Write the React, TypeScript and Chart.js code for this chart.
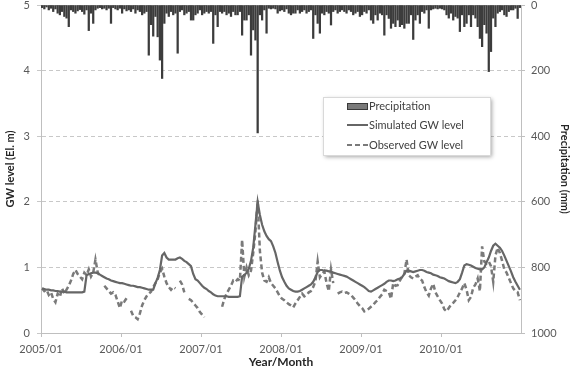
import { useEffect, useRef } from 'react';
import { Chart, registerables } from 'chart.js';

Chart.register(...registerables);

// ---- Data (10-day periods, 36 per year) ----
const years = [2005, 2006, 2007, 2008, 2009, 2010];
const xTickLabels = ['2005/01', '2006/01', '2007/01', '2008/01', '2009/01', '2010/01'];

// Precipitation (mm)
const precip2005 = [8, 12, 6, 15, 10, 20, 12, 25, 30, 20, 35, 40, 66, 15, 20, 25, 18, 14, 20, 28, 15, 78, 25, 56, 15, 10, 8, 12, 10, 15, 10, 56, 8, 12, 15, 10];
const precip2006 = [25, 12, 18, 15, 20, 12, 25, 15, 20, 30, 25, 20, 153, 60, 95, 35, 97, 168, 224, 56, 25, 35, 20, 30, 25, 147, 20, 15, 30, 25, 20, 46, 46, 30, 25, 15];
const precip2007 = [30, 25, 20, 25, 20, 117, 30, 66, 20, 25, 20, 30, 25, 35, 20, 30, 30, 20, 92, 46, 46, 30, 153, 76, 107, 390, 30, 46, 15, 86, 10, 12, 10, 12, 25, 18];
const precip2008 = [15, 20, 12, 25, 30, 25, 25, 15, 25, 20, 15, 25, 20, 15, 102, 30, 56, 86, 25, 30, 20, 25, 61, 20, 15, 25, 20, 15, 20, 25, 15, 20, 30, 25, 20, 35];
const precip2009 = [30, 20, 25, 15, 46, 56, 30, 46, 25, 30, 92, 30, 41, 71, 56, 66, 46, 66, 60, 71, 56, 56, 30, 105, 46, 30, 56, 20, 25, 15, 71, 15, 12, 10, 12, 10];
const precip2010 = [12, 15, 30, 40, 25, 46, 35, 40, 81, 30, 66, 56, 30, 66, 30, 40, 66, 102, 127, 60, 86, 203, 142, 40, 66, 25, 20, 15, 30, 35, 20, 15, 15, 10, 41, 8];

// Simulated GW level (El. m)
const sim2005 = [0.68, 0.67, 0.66, 0.66, 0.65, 0.65, 0.64, 0.64, 0.63, 0.63, 0.63, 0.62, 0.62, 0.62, 0.62, 0.62, 0.62, 0.62, 0.62, 0.63, 0.88, 0.90, 0.91, 0.92, 0.92, 0.91, 0.89, 0.87, 0.85, 0.83, 0.82, 0.80, 0.79, 0.78, 0.77, 0.76];
const sim2006 = [0.76, 0.75, 0.74, 0.73, 0.72, 0.72, 0.71, 0.70, 0.70, 0.69, 0.68, 0.67, 0.66, 0.66, 0.66, 0.76, 0.84, 0.96, 1.18, 1.22, 1.15, 1.12, 1.12, 1.12, 1.12, 1.14, 1.15, 1.13, 1.10, 1.08, 1.05, 1.02, 0.90, 0.82, 0.80, 0.76];
const sim2007 = [0.72, 0.69, 0.67, 0.64, 0.62, 0.59, 0.57, 0.56, 0.56, 0.56, 0.56, 0.56, 0.55, 0.55, 0.55, 0.55, 0.55, 0.56, 0.86, 0.88, 0.92, 0.98, 1.10, 1.30, 1.65, 2.00, 1.80, 1.65, 1.55, 1.48, 1.43, 1.40, 1.32, 1.22, 1.08, 0.95];
const sim2008 = [0.85, 0.78, 0.72, 0.68, 0.66, 0.64, 0.63, 0.63, 0.64, 0.66, 0.68, 0.70, 0.72, 0.74, 0.78, 0.85, 0.93, 0.96, 0.96, 0.95, 0.95, 0.94, 0.94, 0.92, 0.91, 0.90, 0.89, 0.88, 0.87, 0.86, 0.84, 0.82, 0.80, 0.78, 0.76, 0.74];
const sim2009 = [0.72, 0.70, 0.67, 0.64, 0.63, 0.65, 0.67, 0.69, 0.71, 0.73, 0.75, 0.78, 0.80, 0.80, 0.79, 0.80, 0.82, 0.83, 0.85, 0.90, 0.95, 0.95, 0.94, 0.93, 0.94, 0.95, 0.96, 0.96, 0.95, 0.93, 0.92, 0.91, 0.89, 0.88, 0.87, 0.85];
const sim2010 = [0.84, 0.83, 0.81, 0.79, 0.78, 0.77, 0.76, 0.78, 0.82, 0.92, 1.03, 1.05, 1.04, 1.03, 1.01, 0.99, 0.98, 0.97, 0.97, 1.00, 1.08, 1.15, 1.25, 1.33, 1.36, 1.33, 1.30, 1.25, 1.18, 1.10, 1.02, 0.94, 0.85, 0.78, 0.72, 0.66];

// Observed GW level (El. m), null = no record
const obs2005 = [0.68, 0.64, 0.66, 0.58, 0.62, 0.52, 0.47, 0.60, 0.55, 0.68, 0.60, 0.66, 0.72, 0.80, 0.90, 0.96, 0.90, 0.86, 0.82, 0.92, 0.88, 0.97, 0.86, 0.92, 1.12, 0.93, 0.86, null, 0.72, 0.68, 0.64, 0.60, 0.62, 0.58, 0.48, 0.38];
const obs2006 = [0.50, 0.48, 0.53, null, 0.34, 0.26, 0.24, 0.21, 0.30, 0.42, 0.50, 0.56, 0.60, 0.63, 0.70, 0.76, 0.82, 0.92, 0.98, 0.86, 0.76, 0.70, 0.66, 0.70, 0.68, null, 0.80, 0.74, 0.62, null, 0.52, 0.50, 0.46, 0.42, 0.38, 0.32];
const obs2007 = [0.28, 0.24, null, null, null, null, null, null, null, 0.40, 0.52, 0.60, 0.66, 0.72, 0.80, 0.78, 0.82, 0.80, 1.42, 0.86, 1.00, 0.88, 0.95, 1.22, 1.55, 2.02, 1.25, 0.92, 0.80, 0.78, 0.85, 0.76, 0.72, 0.68, 0.62, 0.56];
const obs2008 = [0.52, 0.50, 0.47, 0.44, 0.42, 0.39, 0.45, 0.50, 0.55, 0.60, 0.56, 0.58, 0.62, 0.64, 0.70, 0.79, 1.09, 0.85, 0.90, 0.94, 0.76, 0.64, 0.97, 0.76, null, 0.60, 0.62, 0.63, 0.61, 0.62, 0.60, 0.58, 0.54, 0.50, 0.45, 0.41];
const obs2009 = [0.38, 0.33, 0.35, 0.37, 0.40, 0.43, 0.47, 0.50, 0.55, 0.59, 0.66, 0.64, 0.62, 0.52, 0.76, 0.72, 0.73, 0.80, 0.86, 0.90, 1.12, 0.88, 0.85, 0.83, 0.86, 0.88, 0.82, 0.80, 0.70, 0.62, 0.57, 0.68, 0.75, 0.62, 0.56, 0.50];
const obs2010 = [0.45, 0.36, 0.33, 0.38, 0.43, 0.46, 0.50, 0.55, 0.62, 0.68, 0.76, 0.66, 0.50, 0.55, 0.69, 0.74, 0.83, 0.64, 1.32, 1.09, 1.06, 1.09, 1.02, 0.78, 1.18, 1.30, 1.22, 1.10, 0.97, 0.92, 0.84, 0.76, 0.68, 0.64, 0.62, 0.50];

const precipByYear = [precip2005, precip2006, precip2007, precip2008, precip2009, precip2010];
const simByYear = [sim2005, sim2006, sim2007, sim2008, sim2009, sim2010];
const obsByYear = [obs2005, obs2006, obs2007, obs2008, obs2009, obs2010];

function toPoints(byYear: (number | null)[][]) {
  const pts: { x: number; y: number | null }[] = [];
  byYear.forEach((arr, k) => {
    arr.forEach((v, i) => pts.push({ x: years[k] + (i + 0.5) / arr.length, y: v }));
  });
  return pts;
}

const FONT = 'Lato, "Open Sans", sans-serif';

const boxLegend = {
  id: 'boxLegend',
  afterDraw(chart: any) {
    const ctx = chart.ctx as CanvasRenderingContext2D;
    const ds = chart.data.datasets;
    const x0 = 323, y0 = 97, w = 167, h = 58;
    ctx.save();
    ctx.shadowColor = 'rgba(0,0,0,0.35)';
    ctx.shadowBlur = 4;
    ctx.shadowOffsetX = 2;
    ctx.shadowOffsetY = 2;
    ctx.fillStyle = '#ffffff';
    ctx.fillRect(x0, y0, w, h);
    ctx.shadowColor = 'transparent';
    ctx.strokeStyle = '#d9d9d9';
    ctx.lineWidth = 1;
    ctx.strokeRect(x0 + 0.5, y0 + 0.5, w, h);

    const sx = 347, ex = 368, tx = 369;
    const rows = [106, 125, 145];
    ctx.fillStyle = '#7a7a7a';
    ctx.fillRect(sx, rows[0] - 3, ex - sx, 6);
    ctx.strokeStyle = '#3a3a3a';
    ctx.strokeRect(sx + 0.5, rows[0] - 3 + 0.5, ex - sx - 1, 6);
    ctx.strokeStyle = ds[1].borderColor;
    ctx.lineWidth = 2;
    ctx.beginPath();
    ctx.moveTo(sx, rows[1]);
    ctx.lineTo(ex, rows[1]);
    ctx.stroke();
    ctx.strokeStyle = ds[2].borderColor;
    ctx.setLineDash(ds[2].borderDash);
    ctx.beginPath();
    ctx.moveTo(sx, rows[2]);
    ctx.lineTo(ex, rows[2]);
    ctx.stroke();
    ctx.setLineDash([]);

    ctx.fillStyle = '#404040';
    ctx.font = `11px ${FONT}`;
    ctx.textBaseline = 'middle';
    ctx.textAlign = 'left';
    ds.forEach((d: any, i: number) => ctx.fillText(d.label, tx, rows[i]));
    ctx.restore();
  },
};

export default function App() {
  const ref = useRef<HTMLCanvasElement>(null);
  useEffect(() => {
    document.body.style.margin = '0';
    const tickFont = { family: FONT, size: 11 };
    const titleFont = { family: FONT, size: 11, weight: 'bold' as const };
    const chart = new Chart(ref.current!, {
      type: 'line',
      data: {
        datasets: [
          {
            type: 'bar',
            label: 'Precipitation',
            data: toPoints(precipByYear) as any,
            xAxisID: 'x',
            yAxisID: 'yP',
            backgroundColor: '#3c3c3c',
            borderWidth: 0,
            barThickness: 1.6,
          } as any,
          {
            type: 'line',
            label: 'Simulated GW level',
            data: toPoints(simByYear) as any,
            xAxisID: 'x',
            yAxisID: 'y',
            borderColor: '#666666',
            borderWidth: 2.2,
            pointRadius: 0,
            tension: 0,
            spanGaps: false,
          },
          {
            type: 'line',
            label: 'Observed GW level',
            data: toPoints(obsByYear) as any,
            xAxisID: 'x',
            yAxisID: 'y',
            borderColor: '#7a7a7a',
            borderWidth: 2.5,
            borderDash: [5, 3],
            pointRadius: 0,
            tension: 0,
            spanGaps: false,
          },
        ],
      },
      options: {
        responsive: false,
        animation: false,
        layout: { padding: { top: 5, left: 0, right: 0, bottom: 0 } },
        plugins: { legend: { display: false }, tooltip: { enabled: false } },
        scales: {
          x: {
            type: 'linear',
            min: 2005,
            max: 2011,
            offset: false,
            afterBuildTicks: (s: any) => {
              s.ticks = years.map((v) => ({ value: v }));
            },
            ticks: {
              callback: (v: any) => xTickLabels[years.indexOf(Math.round(Number(v)))] ?? '',
              color: '#595959',
              font: tickFont,
              padding: 6,
              maxRotation: 0,
              autoSkip: false,
            },
            grid: { drawOnChartArea: false, tickLength: 4, color: '#bfbfbf', offset: false },
            border: { color: '#bfbfbf' },
            title: {
              display: true,
              text: 'Year/Month',
              color: '#262626',
              font: { ...titleFont, size: 12 },
              padding: { top: -2, bottom: 0 },
            },
            afterFit: (s: any) => {
              s.height = 36;
              s.paddingLeft = 0;
              s.paddingRight = 0;
            },
          },
          y: {
            type: 'linear',
            position: 'left',
            min: 0,
            max: 5,
            ticks: { stepSize: 1, color: '#595959', font: tickFont, padding: 7 },
            grid: { color: '#c8c8c8', tickLength: 4 },
            border: { color: '#bfbfbf', dash: [4, 3] },
            title: {
              display: true,
              text: 'GW level (El. m)',
              color: '#262626',
              font: titleFont,
              padding: { top: 4, bottom: 0 },
            },
            afterFit: (s: any) => {
              s.width = 41;
              s.paddingTop = 0;
              s.paddingBottom = 0;
            },
          },
          yP: {
            type: 'linear',
            position: 'right',
            min: 0,
            max: 1000,
            reverse: true,
            ticks: {
              stepSize: 200,
              color: '#595959',
              font: tickFont,
              padding: 6,
              callback: (v: any) => String(v),
            },
            grid: { drawOnChartArea: false, tickLength: 4, color: '#bfbfbf' },
            border: { color: '#bfbfbf' },
            title: {
              display: true,
              text: 'Precipitation (mm)',
              color: '#262626',
              font: titleFont,
              padding: { top: 4, bottom: 0 },
            },
            afterFit: (s: any) => {
              s.width = 54;
              s.paddingTop = 0;
              s.paddingBottom = 0;
            },
          },
        },
      } as any,
      plugins: [boxLegend],
    });
    return () => chart.destroy();
  }, []);
  return <canvas ref={ref} width={575} height={369} style={{ display: 'block' }} />;
}
